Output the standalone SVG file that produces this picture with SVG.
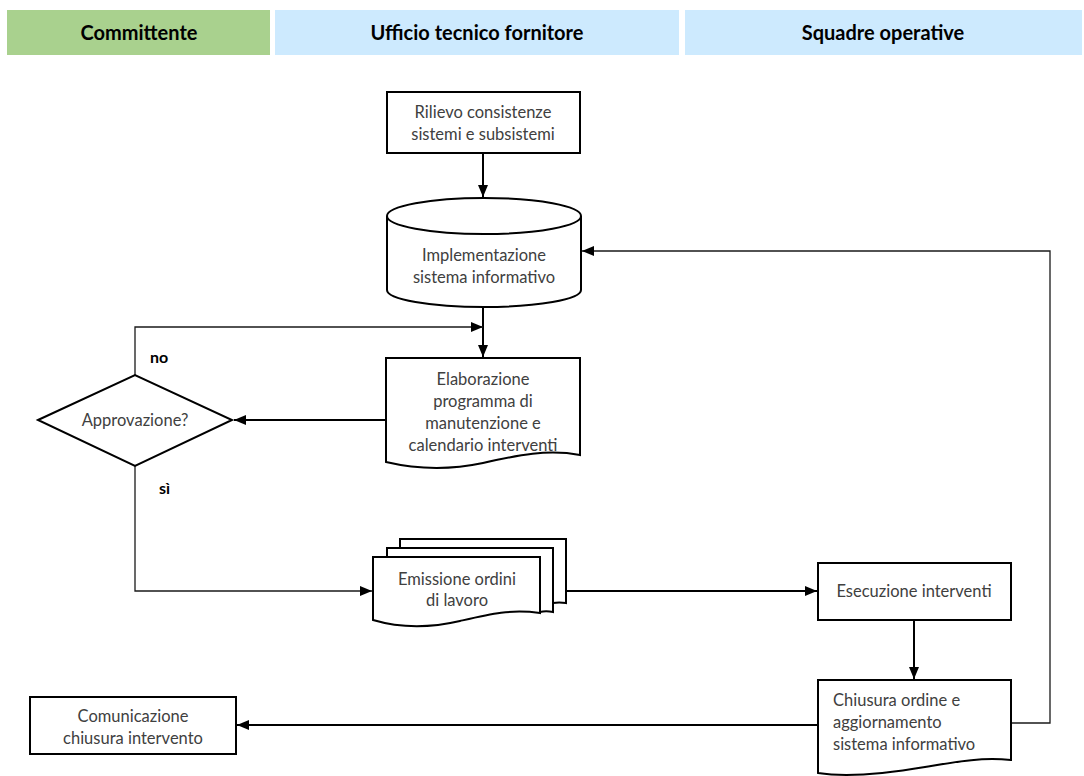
<svg xmlns="http://www.w3.org/2000/svg" width="1084" height="776" viewBox="0 0 1084 776">
<style>
.hdr{font-family:Lato,"Liberation Sans",sans-serif;font-weight:bold;font-size:20px;fill:#000;text-anchor:middle}
.t{font-family:Lato,"Liberation Sans",sans-serif;font-size:16.5px;fill:#404040;text-anchor:middle}
.tl{font-family:Lato,"Liberation Sans",sans-serif;font-size:16.5px;fill:#404040}
.b{font-family:Lato,"Liberation Sans",sans-serif;font-weight:bold;font-size:16px;fill:#000}
.s{fill:#fff;stroke:#000;stroke-width:2}
.c{fill:none;stroke:#000;stroke-width:2}
.ct{fill:none;stroke:#1a1a1a;stroke-width:1.3}
</style>
<defs>
<marker id="ah" viewBox="0 0 12 10" refX="12" refY="5" markerWidth="12" markerHeight="10" markerUnits="userSpaceOnUse" orient="auto">
<path d="M0,0 L12,5 L0,10 Z" fill="#000"/>
</marker>
</defs>
<rect width="1084" height="776" fill="#fff"/>
<g id="lanes">
<rect x="7" y="10" width="263" height="45" fill="#a9d18e"/>
<rect x="275" y="10" width="404" height="45" fill="#cdeafe"/>
<rect x="685" y="10" width="397" height="45" fill="#cdeafe"/>
<text class="hdr" x="139" y="40">Committente</text>
<text class="hdr" x="477" y="40">Ufficio tecnico fornitore</text>
<text class="hdr" x="883" y="40">Squadre operative</text>
</g>
<g id="connectors">
<line class="c" x1="483" y1="154" x2="483" y2="197" marker-end="url(#ah)"/>
<polyline class="ct" points="1012,723 1050,723 1050,251 582,251" marker-end="url(#ah)"/>
<line class="c" x1="483" y1="308" x2="483" y2="357" marker-end="url(#ah)"/>
<polyline class="ct" points="135,375 135,327 483,327" marker-end="url(#ah)"/>
<line class="c" x1="386" y1="420" x2="234" y2="420" marker-end="url(#ah)"/>
<polyline class="ct" points="135,466 135,591 372,591" marker-end="url(#ah)"/>
<line class="c" x1="566" y1="591" x2="817" y2="591" marker-end="url(#ah)"/>
<line class="c" x1="914" y1="620" x2="914" y2="679" marker-end="url(#ah)"/>
<line class="c" x1="818" y1="725" x2="237" y2="725" marker-end="url(#ah)"/>
<text class="b" x="150" y="363">no</text>
<text class="b" x="159" y="494">sì</text>
</g>
<g id="rilievo">
<rect class="s" x="387" y="92" width="193" height="61"/>
<text class="t" x="483" y="118">Rilievo consistenze</text>
<text class="t" x="483" y="140">sistemi e subsistemi</text>
</g>
<g id="implementazione">
<path class="s" d="M387,216 V290 A97,17 0 0 0 581,290 V216 A97,18 0 0 0 387,216 Z"/>
<path class="c" d="M387,216 A97,18 0 0 0 581,216"/>
<text class="t" x="484" y="261">Implementazione</text>
<text class="t" x="484" y="283">sistema informativo</text>
</g>
<g id="elaborazione">
<path class="s" d="M386,358 H580 V455 C548,449 518,455 483,463 C450,470 420,470 386,462 Z"/>
<text class="t" x="483" y="385">Elaborazione</text>
<text class="t" x="483" y="407">programma di</text>
<text class="t" x="483" y="429">manutenzione e</text>
<text class="t" x="483" y="451">calendario interventi</text>
</g>
<g id="approvazione">
<polygon class="s" points="38,420 135,375 232,420 135,466"/>
<text class="t" x="135" y="426">Approvazione?</text>
</g>
<g id="emissione">
<path class="s" d="M400,539 H566 V603 C560,602 558,602 553,603 V548 H400 Z"/>
<path class="s" d="M387,548 H553 V612 C548,611 544,611 540,612 V557 H387 Z"/>
<path class="s" d="M373,557 H540 V613 C510,609 490,614 460,621 C430,628 400,628 373,620 Z"/>
<text class="t" x="457" y="585">Emissione ordini</text>
<text class="t" x="457" y="606">di lavoro</text>
</g>
<g id="esecuzione">
<rect class="s" x="818" y="563" width="193" height="57"/>
<text class="t" x="914" y="597">Esecuzione interventi</text>
</g>
<g id="chiusura">
<path class="s" d="M818,680 H1011 V760 C980,757 955,762 925,767 C890,773 850,778 818,773 Z"/>
<text class="tl" x="833" y="706">Chiusura ordine e</text>
<text class="tl" x="833" y="728">aggiornamento</text>
<text class="tl" x="833" y="750">sistema informativo</text>
</g>
<g id="comunicazione">
<rect class="s" x="30" y="697" width="206" height="57"/>
<text class="t" x="133" y="722">Comunicazione</text>
<text class="t" x="133" y="744">chiusura intervento</text>
</g>
</svg>
